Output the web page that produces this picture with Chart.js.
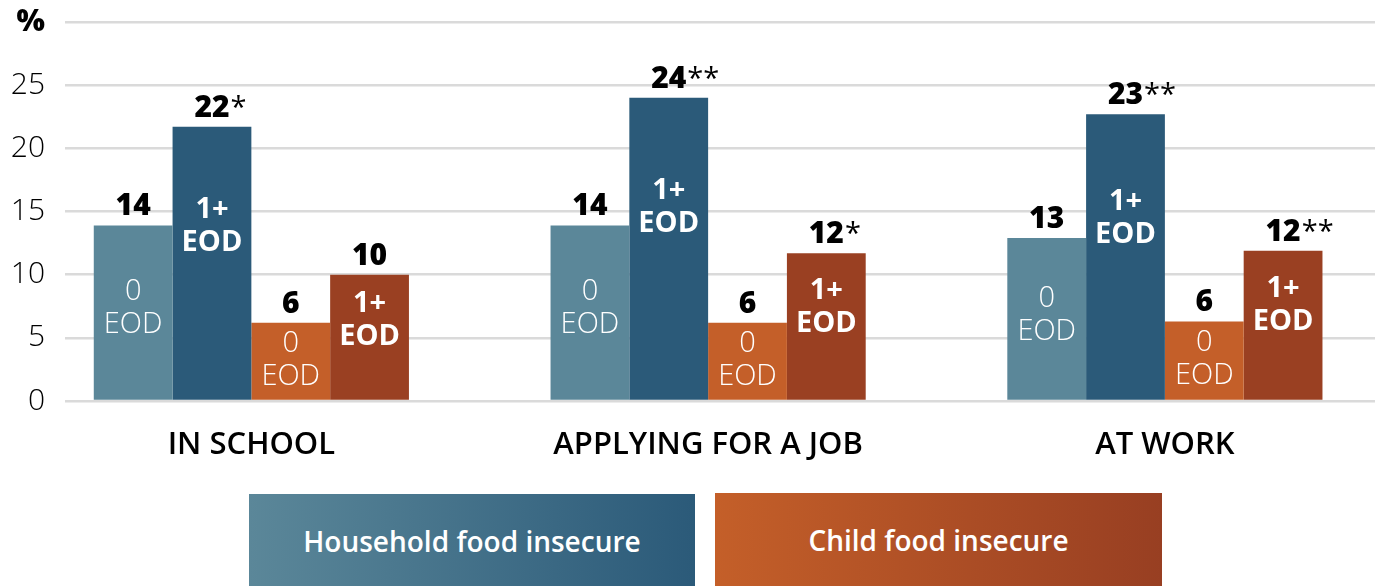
<!DOCTYPE html>
<html>
<head>
<meta charset="utf-8">
<script src="https://cdn.jsdelivr.net/npm/chart.js@4/dist/chart.umd.min.js"></script>
<style>
  body { margin: 0; background: #fff; }
  #caja { position: relative; width: 1381px; height: 586px; }
  .leyenda {
    position: absolute; height: 93px; display: flex; align-items: center; justify-content: center;
    color: #fff; font-family: "Open Sans", sans-serif; font-weight: 600; font-size: 28px;
  }
  #leyHogar { left: 249px; top: 494px; width: 446px; background: linear-gradient(to right, #5b8799, #2b5a79); }
  #leyNino { left: 715px; top: 493px; width: 447px; background: linear-gradient(to right, #c45f29, #983f22); }
</style>
</head>
<body>
<div id="caja">
  <canvas id="grafico"></canvas>
  <div class="leyenda" id="leyHogar">Household food insecure</div>
  <div class="leyenda" id="leyNino">Child food insecure</div>
</div>
<script>
const categorias = ['IN SCHOOL', 'APPLYING FOR A JOB', 'AT WORK'];
const hogarCero = [13.9, 13.9, 12.9];
const hogarUno = [21.7, 24.0, 22.7];
const ninoCero = [6.2, 6.2, 6.3];
const ninoUno = [10.0, 11.7, 11.9];
const estrellasHogarUno = ['*', '**', '**'];
const estrellasNinoUno = ['', '*', '**'];
const etiquetasY = ['0', '5', '10', '15', '20', '25', '%'];

const fuente = '"Open Sans", sans-serif';

function puntos(valores) {
  return valores.map((v, i) => ({ x: i, y: v }));
}

const series = [
  { datos: hogarCero, color: '#5b8799', texto: ['0', 'EOD'], fuerte: false, estrellas: null },
  { datos: hogarUno, color: '#2b5a79', texto: ['1+', 'EOD'], fuerte: true, estrellas: estrellasHogarUno },
  { datos: ninoCero, color: '#c45f29', texto: ['0', 'EOD'], fuerte: false, estrellas: null },
  { datos: ninoUno, color: '#9a4022', texto: ['1+', 'EOD'], fuerte: true, estrellas: estrellasNinoUno }
];

// etiquetas de valor encima y texto EOD dentro de cada barra
const etiquetas = {
  id: 'etiquetas',
  afterDatasetsDraw(chart) {
    const ctx = chart.ctx;
    const escalaY = chart.scales.y;
    ctx.save();
    series.forEach((s, d) => {
      const meta = chart.getDatasetMeta(d);
      meta.data.forEach((barra, i) => {
        const v = s.datos[i];
        const num = String(Math.round(v));
        const est = s.estrellas ? s.estrellas[i] : '';
        ctx.textBaseline = 'alphabetic';
        ctx.fillStyle = '#000';
        ctx.font = '800 30px ' + fuente;
        const ancho = ctx.measureText(num).width;
        ctx.textAlign = 'center';
        ctx.fillText(num, barra.x, barra.y - 10);
        if (est) {
          ctx.font = '400 29px ' + fuente;
          ctx.textAlign = 'left';
          ctx.fillText(est, barra.x + ancho / 2 + 1, barra.y - 10);
        }

        const centro = escalaY.getPixelForValue(v * (s.fuerte ? 0.64 : 0.53));
        ctx.fillStyle = '#fff';
        ctx.textAlign = 'center';
        ctx.textBaseline = 'middle';
        ctx.font = (s.fuerte ? '700 ' : '300 ') + '29px ' + fuente;
        ctx.fillText(s.texto[0], barra.x, centro - 16);
        ctx.fillText(s.texto[1], barra.x, centro + 17);
      });
    });
    ctx.restore();
  }
};

new Chart(document.getElementById('grafico'), {
  type: 'bar',
  data: {
    datasets: series.map(s => ({
      data: puntos(s.datos),
      backgroundColor: s.color,
      borderWidth: 0,
      categoryPercentage: 0.69,
      barPercentage: 1
    }))
  },
  options: {
    responsive: true,
    maintainAspectRatio: false,
    animation: false,
    layout: { padding: { top: 22, right: 6, left: 0, bottom: 0 } },
    plugins: { legend: { display: false }, tooltip: { enabled: false } },
    scales: {
      x: {
        type: 'linear',
        offset: false,
        min: -0.408,
        max: 2.46,
        afterBuildTicks: escala => { escala.ticks = categorias.map((c, i) => ({ value: i })); },
        afterFit: escala => {
          escala.height = 185;
          escala.paddingLeft = 0;
          escala.paddingRight = 0;
        },
        grid: { display: false, drawTicks: false },
        border: { display: false },
        ticks: {
          padding: 26,
          maxRotation: 0,
          autoSkip: false,
          color: '#000',
          font: { family: fuente, size: 31, weight: '600' },
          callback: v => categorias[v]
        }
      },
      y: {
        min: 0,
        max: 30,
        afterBuildTicks: escala => { escala.ticks = etiquetasY.map((t, i) => ({ value: i * 5 })); },
        afterFit: escala => {
          escala.width = 65;
          escala.paddingTop = 0;
          escala.paddingBottom = 0;
        },
        grid: { color: '#dadada', lineWidth: 2.5, drawTicks: false },
        border: { display: false },
        ticks: {
          padding: 20,
          color: '#000',
          font: ctx => ctx.index === 6
            ? { family: fuente, size: 30, weight: '800' }
            : { family: fuente, size: 30, weight: '300' },
          callback: (v, i) => etiquetasY[i]
        }
      }
    }
  },
  plugins: [etiquetas]
});
</script>
</body>
</html>
